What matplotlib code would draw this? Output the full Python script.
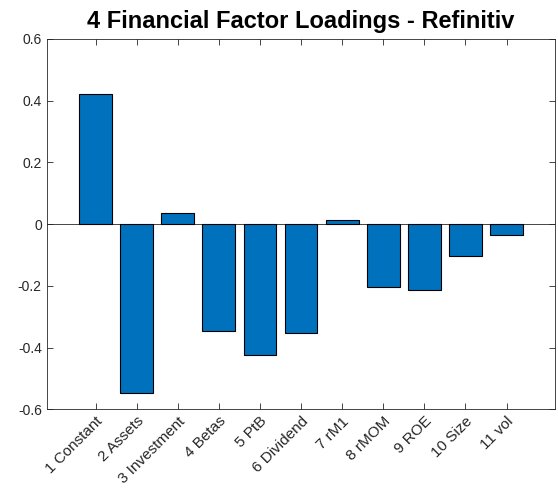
import numpy as np
import matplotlib.pyplot as plt
import matplotlib.transforms as mtransforms

plt.rcParams['font.family'] = ['Liberation Sans', 'DejaVu Sans']

factors = ['1 Constant', '2 Assets', '3 Investment', '4 Betas', '5 PtB',
           '6 Dividend', '7 rM1', '8 rMOM', '9 ROE', '10 Size', '11 vol']
loadings = [0.421, -0.547, 0.035, -0.345, -0.425, -0.353,
            0.013, -0.204, -0.213, -0.104, -0.036]

fig = plt.figure(figsize=(5.58, 4.91), dpi=100)
ax = fig.add_axes([0.0837, 0.1664, 0.9109, 0.7542])

x = np.arange(1, len(factors) + 1)
ax.bar(x, loadings, width=0.8, color='#0072BD', edgecolor='black', linewidth=0.8, zorder=3)
ax.axhline(0, color='#262626', linewidth=0.6, zorder=2)

ax.set_xlim(-0.19, 12.18)
ax.set_ylim(-0.6, 0.6)
ax.set_yticks(np.arange(-0.6, 0.61, 0.2))
ax.set_yticklabels(['-0.6', '-0.4', '-0.2', '0', '0.2', '0.4', '0.6'])
ax.set_xticks(x)
ax.set_xticklabels(factors, rotation=45, ha='right', rotation_mode='anchor', fontsize=11)

# nudge rotated labels so their ends sit right of the ticks
shift = mtransforms.ScaledTranslation(0.07, -0.09, fig.dpi_scale_trans)
for lbl in ax.get_xticklabels():
    lbl.set_transform(lbl.get_transform() + shift)

for s in ax.spines.values():
    s.set_color('#262626')
    s.set_linewidth(0.6)
ax.tick_params(direction='in', length=4, width=0.6, color='#262626',
               top=True, right=True, labelcolor='#262626')
ax.tick_params(axis='y', labelsize=10)

ax.set_title('4 Financial Factor Loadings - Refinitiv', fontsize=17, fontweight='bold', pad=8)

fig.savefig('out.png', dpi=100)
